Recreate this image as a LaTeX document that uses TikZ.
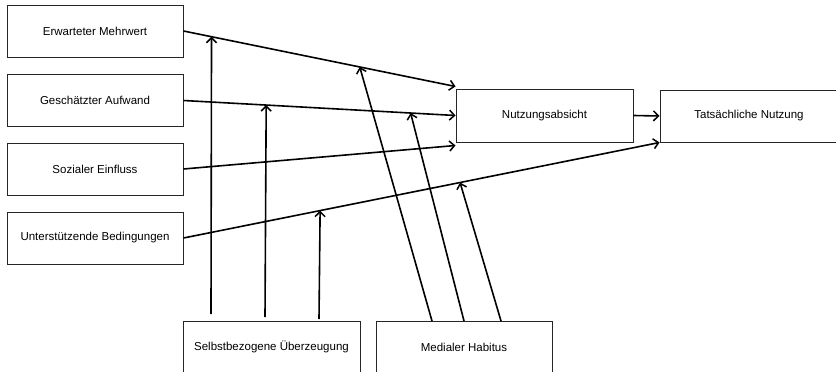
\documentclass[tikz,border=0pt]{standalone}
\usepackage{fontspec}
\setmainfont{Liberation Sans}
\usetikzlibrary{arrows.meta}

\tikzset{
  box/.style={draw=black!85, line width=1pt, fill=white, minimum width=176pt,
    minimum height=52pt, inner sep=0pt, font=\fontsize{11.5}{13}\selectfont},
  link/.style={line width=1.6pt, -{Straight Barb[length=5pt,width=10pt,line width=1.5pt]}}
}

\begin{document}
\begin{tikzpicture}[x=1pt,y=-1pt]
  \useasboundingbox (0,0) rectangle (836,372);

  % determinants on the left
  \node[box] (em) at (95,31)    {Erwarteter Mehrwert};
  \node[box] (ga) at (95,100.5) {Geschätzter Aufwand};
  \node[box] (se) at (95,169)   {Sozialer Einfluss};
  \node[box] (ub) at (95,238)   {Unterstützende Bedingungen};

  % intention and behaviour
  \node[box, minimum width=177pt, minimum height=53pt] (na) at (544.5,115.5) {Nutzungsabsicht};
  \node[box, minimum width=178pt] (tn) at (749,116) {Tatsächliche Nutzung};

  % moderators at the bottom
  \node[box, minimum width=177pt] (sb) at (271.5,347) {Selbstbezogene Überzeugung};
  \node[box] (mh) at (464,347) {Medialer Habitus};

  % direct paths
  \coordinate (na1) at ([yshift=2pt]na.north west);
  \coordinate (na3) at ([yshift=-3pt]na.south west);
  \draw[link] (em.east) -- coordinate[pos=0.103] (m1) coordinate[pos=0.648] (m4) (na1);
  \draw[link] (ga.east) -- coordinate[pos=0.304] (m2) coordinate[pos=0.835] (m5) (na.west);
  \draw[link] (se.east) -- (na3);
  \draw[link] (ub.east) -- coordinate[pos=0.287] (m3) coordinate[pos=0.581] (m6) (tn.south west);
  \draw[link] (na.east) -- (tn.west);

  % moderating effects
  \coordinate (s1) at (211,314);
  \coordinate (s2) at (265,317);
  \coordinate (s3) at (319,319);
  \coordinate (h1) at (432,321);
  \coordinate (h2) at (464,321);
  \coordinate (h3) at (501,321);
  \draw[link] (s1) -- (m1);
  \draw[link] (s2) -- (m2);
  \draw[link] (s3) -- (m3);
  \draw[link] (h1) -- (m4);
  \draw[link] (h2) -- (m5);
  \draw[link] (h3) -- (m6);
\end{tikzpicture}
\end{document}
